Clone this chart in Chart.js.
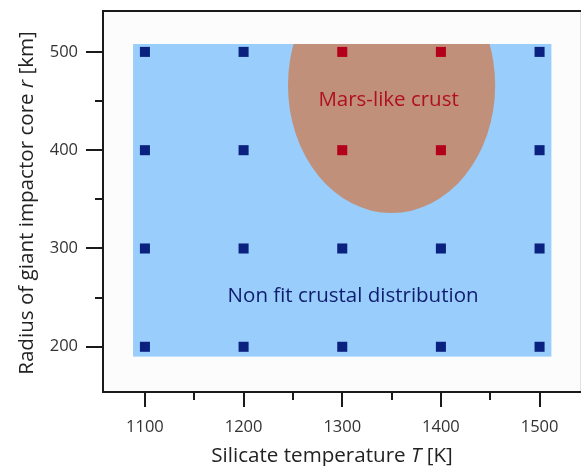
<!DOCTYPE html>
<html>
<head>
<meta charset="utf-8">
<script src="https://cdn.jsdelivr.net/npm/chart.js@4"></script>
<style>
  html, body { margin: 0; padding: 0; background: #fff; overflow: hidden; }
  #wrap { width: 582px; height: 466px; position: relative; }
  #grafico { display: block; }
</style>
</head>
<body>
<div id="wrap"><canvas id="grafico"></canvas></div>
<script>
// grid of simulation runs: silicate temperature T [K] x impactor core radius r [km]
var temperaturas = [1100, 1200, 1300, 1400, 1500];
var raios = [200, 300, 400, 500];
// runs that give a Mars-like crust
var marteT = [1300, 1400, 1300, 1400];
var marteR = [500, 500, 400, 400];

// axis ranges and ticks
var xLimites = [1057.5, 1542];
var yLimites = [154, 541.6];
var xTicksMaiores = [1100, 1200, 1300, 1400, 1500];
var xTicksMenores = [1150, 1250, 1350, 1450];
var yTicksMaiores = [200, 300, 400, 500];
var yTicksMenores = [250, 350, 450];

// regions: the explored box and the Mars-like ellipse (centre T, centre r, half-width, half-height)
var regiaoTotal = [1088, 1512, 190, 508];
var regiaoMarte = [1350, 466, 105, 130];

var corAzul = '#0b2180';
var corVermelho = '#b3001b';

function ehMarte(t, r) {
    for (var i = 0; i < marteT.length; i++) {
        if (marteT[i] === t && marteR[i] === r) return true;
    }
    return false;
}

var pontosAzuis = [];
var pontosVermelhos = [];
for (var i = 0; i < temperaturas.length; i++) {
    for (var j = 0; j < raios.length; j++) {
        var p = { x: temperaturas[i], y: raios[j] };
        if (ehMarte(p.x, p.y)) pontosVermelhos.push(p);
        else pontosAzuis.push(p);
    }
}

var fonte = '"Open Sans", sans-serif';

var fundo = {
    id: 'fundo',
    beforeDatasetsDraw: function(chart) {
        var ctx = chart.ctx;
        var a = chart.chartArea;
        var sx = chart.scales.x, sy = chart.scales.y;
        ctx.save();
        ctx.fillStyle = '#fcfcfc';
        ctx.fillRect(a.left, a.top, a.right - a.left, a.bottom - a.top);

        var x0 = sx.getPixelForValue(regiaoTotal[0]);
        var x1 = sx.getPixelForValue(regiaoTotal[1]);
        var y0 = sy.getPixelForValue(regiaoTotal[3]);
        var y1 = sy.getPixelForValue(regiaoTotal[2]);
        ctx.fillStyle = '#99cdfb';
        ctx.fillRect(x0, y0, x1 - x0, y1 - y0);

        // ellipse, clipped to the explored box
        ctx.beginPath();
        ctx.rect(x0, y0, x1 - x0, y1 - y0);
        ctx.clip();
        var cx = sx.getPixelForValue(regiaoMarte[0]);
        var cy = sy.getPixelForValue(regiaoMarte[1]);
        var rx = Math.abs(sx.getPixelForValue(regiaoMarte[0] + regiaoMarte[2]) - cx);
        var ry = Math.abs(sy.getPixelForValue(regiaoMarte[1] - regiaoMarte[3]) - cy);
        ctx.beginPath();
        ctx.ellipse(cx, cy, rx, ry, 0, 0, Math.PI * 2);
        ctx.fillStyle = '#c0907b';
        ctx.fill();
        ctx.restore();

        ctx.save();
        ctx.textAlign = 'center';
        ctx.textBaseline = 'middle';
        ctx.font = '20.5px ' + fonte;
        ctx.fillStyle = '#b0101e';
        ctx.fillText('Mars-like crust', cx - 3, sy.getPixelForValue(451));
        ctx.fillStyle = '#101c6e';
        ctx.fillText('Non fit crustal distribution', sx.getPixelForValue(1311), sy.getPixelForValue(251));
        ctx.restore();
    },
    afterDraw: function(chart) {
        var ctx = chart.ctx;
        var a = chart.chartArea;
        var sx = chart.scales.x, sy = chart.scales.y;
        ctx.save();
        // frame
        ctx.strokeStyle = '#e2e2e2';
        ctx.lineWidth = 1;
        ctx.beginPath();
        ctx.moveTo(a.right - 0.5, a.top);
        ctx.lineTo(a.right - 0.5, a.bottom);
        ctx.stroke();
        ctx.strokeStyle = '#1a1a1a';
        ctx.lineWidth = 2;
        ctx.beginPath();
        ctx.moveTo(a.right, a.top);
        ctx.lineTo(a.left, a.top);
        ctx.lineTo(a.left, a.bottom);
        ctx.lineTo(a.right, a.bottom);
        ctx.stroke();

        // tick marks, outside the axes
        ctx.lineWidth = 2;
        xTicksMaiores.concat(xTicksMenores).forEach(function(v) {
            var x = Math.round(sx.getPixelForValue(v));
            var len = xTicksMaiores.indexOf(v) >= 0 ? 15 : 8;
            ctx.beginPath();
            ctx.moveTo(x, a.bottom);
            ctx.lineTo(x, a.bottom + len);
            ctx.stroke();
        });
        yTicksMaiores.concat(yTicksMenores).forEach(function(v) {
            var y = Math.round(sy.getPixelForValue(v));
            var len = yTicksMaiores.indexOf(v) >= 0 ? 17 : 8;
            ctx.beginPath();
            ctx.moveTo(a.left, y);
            ctx.lineTo(a.left - len, y);
            ctx.stroke();
        });

        // tick labels
        ctx.fillStyle = '#333';
        ctx.font = '16.5px ' + fonte;
        ctx.textBaseline = 'middle';
        ctx.textAlign = 'center';
        xTicksMaiores.forEach(function(v) {
            ctx.fillText(String(v), sx.getPixelForValue(v), 427);
        });
        ctx.textAlign = 'right';
        yTicksMaiores.forEach(function(v) {
            ctx.fillText(String(v), 78, sy.getPixelForValue(v));
        });

        // axis titles with italic symbols
        ctx.fillStyle = '#222';
        function tituloMisto(partes, cxp, cyp, rot) {
            ctx.save();
            ctx.translate(cxp, cyp);
            ctx.rotate(rot);
            var larg = 0;
            partes.forEach(function(p) {
                ctx.font = (p[1] ? 'italic ' : '') + '20.6px ' + fonte;
                larg += ctx.measureText(p[0]).width;
            });
            var x = -larg / 2;
            ctx.textAlign = 'left';
            ctx.textBaseline = 'middle';
            partes.forEach(function(p) {
                ctx.font = (p[1] ? 'italic ' : '') + '20.6px ' + fonte;
                ctx.fillText(p[0], x, 0);
                x += ctx.measureText(p[0]).width;
            });
            ctx.restore();
        }
        tituloMisto([['Silicate temperature ', false], ['T', true], [' [K]', false]],
            332, 456, 0);
        tituloMisto([['Radius of giant impactor core ', false], ['r', true], [' [km]', false]],
            27, 203, -Math.PI / 2);
        ctx.restore();
    }
};

new Chart(document.getElementById('grafico'), {
    type: 'scatter',
    data: {
        datasets: [
            {
                label: 'Non fit', data: pontosAzuis,
                pointStyle: 'rect', pointRadius: 7.1, pointBorderWidth: 0,
                backgroundColor: corAzul, borderColor: corAzul
            },
            {
                label: 'Mars-like', data: pontosVermelhos,
                pointStyle: 'rect', pointRadius: 7.1, pointBorderWidth: 0,
                backgroundColor: corVermelho, borderColor: corVermelho
            }
        ]
    },
    options: {
        responsive: true, maintainAspectRatio: false, animation: false,
        layout: { autoPadding: false, padding: { top: 11, right: 1, left: 0, bottom: 0 } },
        plugins: { legend: { display: false }, tooltip: { enabled: false } },
        scales: {
            x: {
                type: 'linear', min: xLimites[0], max: xLimites[1],
                afterFit: function(s) { s.height = 74; },
                grid: { display: false, drawTicks: false },
                border: { display: false },
                ticks: { display: false }
            },
            y: {
                type: 'linear', min: yLimites[0], max: yLimites[1],
                afterFit: function(s) { s.width = 103; },
                grid: { display: false, drawTicks: false },
                border: { display: false },
                ticks: { display: false }
            }
        }
    },
    plugins: [fundo]
});
</script>
</body>
</html>
